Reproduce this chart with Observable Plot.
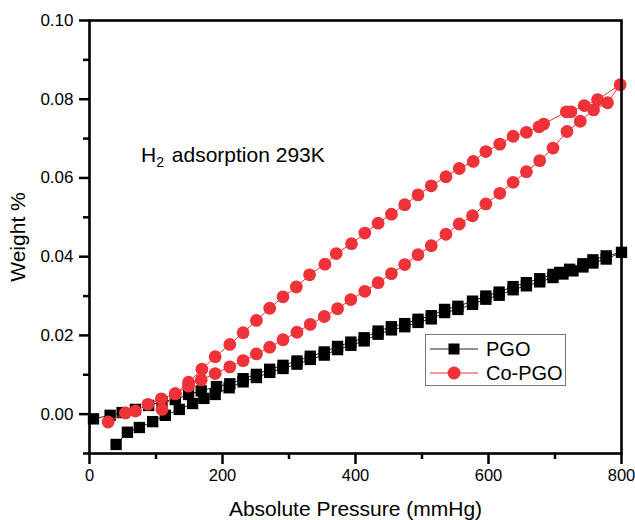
<!DOCTYPE html>
<html>
<head>
<meta charset="utf-8">
<script src="https://cdn.jsdelivr.net/npm/d3@7"></script>
<script src="https://cdn.jsdelivr.net/npm/@observablehq/plot@0.6"></script>
<style>
  html, body { margin: 0; padding: 0; background: #fff; }
  #chart { position: relative; width: 635px; height: 520px; font-family: "Liberation Sans", Arial, sans-serif; color: #000; }
  #chart svg { display: block; overflow: visible; }
  .note { position: absolute; left: 141px; top: 144px; font-size: 21px; line-height: 21px; white-space: nowrap; }
  .note sub { font-size: 14px; vertical-align: -5px; line-height: 0; margin-right: 2px; }
  .legend { position: absolute; left: 425px; top: 334px; width: 141px; height: 52px; border: 1px solid #777; box-sizing: border-box; background: #fff; }
  .legend .row { position: absolute; left: 0; height: 24px; display: flex; align-items: center; font-size: 20px; white-space: nowrap; }
  .legend svg { margin-left: 4px; margin-right: 8px; }
</style>
</head>
<body>
<div id="chart"></div>
<script>
// H2 uptake of PGO and Co-PGO at 293 K: adsorption branch then desorption branch.
// Pressure in mmHg, uptake in weight %.

const pgoAdsP = [40, 57, 75, 95, 114, 135, 155, 172, 189, 210, 231, 251, 271, 291, 312, 332, 353, 373, 393, 413, 434, 454, 474, 494, 514, 534, 554, 576, 596, 616, 637, 657, 677, 697, 712, 727, 742, 757, 777, 800];
const pgoAdsW = [-0.0077, -0.0046, -0.0034, -0.0019, -0.0003, 0.0012, 0.0027, 0.0040, 0.0050, 0.0067, 0.0082, 0.0093, 0.0106, 0.0116, 0.0127, 0.0139, 0.0150, 0.0164, 0.0175, 0.0186, 0.0203, 0.0214, 0.0222, 0.0233, 0.0242, 0.0258, 0.0266, 0.0279, 0.0292, 0.0302, 0.0316, 0.0326, 0.0336, 0.0347, 0.0356, 0.0364, 0.0374, 0.0384, 0.0394, 0.0411];
const pgoDesP = [777, 757, 742, 722, 707, 697, 677, 657, 637, 616, 596, 576, 554, 534, 514, 494, 474, 454, 434, 413, 393, 373, 353, 332, 312, 291, 271, 251, 231, 211, 191, 168, 149, 129, 109, 89, 69, 49, 31, 6];
const pgoDesW = [0.0402, 0.0392, 0.0382, 0.0368, 0.0360, 0.0355, 0.0344, 0.0334, 0.0324, 0.0310, 0.0300, 0.0287, 0.0274, 0.0266, 0.0250, 0.0241, 0.0230, 0.0222, 0.0211, 0.0194, 0.0183, 0.0172, 0.0158, 0.0147, 0.0135, 0.0124, 0.0114, 0.0101, 0.0090, 0.0077, 0.0070, 0.0059, 0.0050, 0.0037, 0.0032, 0.0022, 0.0012, 0.0004, -0.0003, -0.0012];

const coAdsP = [28, 54, 69, 88, 108, 129, 149, 168, 189, 211, 231, 251, 271, 291, 312, 332, 353, 373, 393, 414, 434, 454, 474, 494, 514, 536, 556, 576, 596, 617, 637, 657, 677, 697, 718, 738, 758, 779, 798];
const coAdsW = [-0.0020, 0.0003, 0.0008, 0.0025, 0.0039, 0.0052, 0.0071, 0.0087, 0.0103, 0.0120, 0.0136, 0.0153, 0.0170, 0.0189, 0.0208, 0.0228, 0.0248, 0.0268, 0.0291, 0.0312, 0.0334, 0.0357, 0.0380, 0.0405, 0.0428, 0.0457, 0.0483, 0.0504, 0.0534, 0.0561, 0.0589, 0.0616, 0.0644, 0.0676, 0.0718, 0.0744, 0.0773, 0.0791, 0.0837];
const coDesP = [764, 744, 724, 717, 683, 676, 657, 637, 617, 596, 577, 556, 536, 514, 494, 474, 454, 434, 414, 394, 371, 354, 331, 311, 291, 271, 251, 231, 211, 189, 169, 149, 129, 109];
const coDesW = [0.0799, 0.0784, 0.0768, 0.0768, 0.0737, 0.0730, 0.0716, 0.0706, 0.0686, 0.0667, 0.0642, 0.0624, 0.0603, 0.0580, 0.0557, 0.0532, 0.0508, 0.0485, 0.0460, 0.0433, 0.0408, 0.0381, 0.0354, 0.0323, 0.0298, 0.0269, 0.0238, 0.0207, 0.0177, 0.0146, 0.0114, 0.0081, 0.0052, 0.0012];

const xMajor = [0, 200, 400, 600, 800];
const xMinor = [100, 300, 500, 700];
const yMajor = [0.00, 0.02, 0.04, 0.06, 0.08, 0.10];
const yMinor = [-0.01, 0.01, 0.03, 0.05, 0.07, 0.09];

const RED = "#ee3238";

function loop(adsP, adsW, desP, desW) {
  const rows = adsP.map((p, i) => ({p, w: adsW[i]}));
  return rows.concat(desP.map((p, i) => ({p, w: desW[i]})));
}
const pgo = loop(pgoAdsP, pgoAdsW, pgoDesP, pgoDesW);
const co = loop(coAdsP, coAdsW, coDesP, coDesW);

const chart = Plot.plot({
  width: 635,
  height: 520,
  marginTop: 20,
  marginLeft: 89,
  marginRight: 14,
  marginBottom: 67,
  style: {fontFamily: "'Liberation Sans', Arial, sans-serif", fontSize: "17px", color: "#000", background: "#fff", overflow: "visible"},
  x: {domain: [0, 800]},
  y: {domain: [-0.01, 0.10]},
  marks: [
    Plot.axisX(xMinor, {tickSize: 6, strokeWidth: 2.5, text: null, label: null}),
    Plot.axisX(xMajor, {tickSize: 11, strokeWidth: 2.5, tickPadding: 5, fontSize: 16.5,
      label: "Absolute Pressure (mmHg)", labelAnchor: "center", labelArrow: "none", labelOffset: 62}),
    Plot.axisY(yMinor, {tickSize: 6, strokeWidth: 2.5, text: null, label: null}),
    Plot.axisY(yMajor, {tickSize: 10, strokeWidth: 2.5, tickPadding: 6, fontSize: 17, tickFormat: d => d.toFixed(2),
      label: "Weight %", labelAnchor: "center", labelArrow: "none", labelOffset: 79}),
    Plot.line(pgo, {x: "p", y: "w", stroke: "#222", strokeWidth: 1}),
    Plot.dot(pgo, {x: "p", y: "w", symbol: "square", r: 6.4, fill: "#000", stroke: "none"}),
    Plot.line(co, {x: "p", y: "w", stroke: RED, strokeWidth: 1}),
    Plot.dot(co, {x: "p", y: "w", symbol: "circle", r: 6.4, fill: RED, stroke: "none"}),
    Plot.frame({stroke: "#000", strokeWidth: 2.6})
  ]
});

const root = document.getElementById("chart");
root.appendChild(chart);

// Axis labels get a larger size than tick labels
chart.querySelectorAll("[aria-label$='-axis label'] text").forEach(t => t.setAttribute("font-size", "21"));

// Annotation
const note = document.createElement("div");
note.className = "note";
note.innerHTML = "H<sub>2</sub> adsorption 293K";
root.appendChild(note);

// Legend
const legendItems = [
  {name: "PGO", color: "#222", fill: "#000", shape: "square"},
  {name: "Co-PGO", color: RED, fill: RED, shape: "circle"}
];
const legend = document.createElement("div");
legend.className = "legend";
legendItems.forEach((item, i) => {
  const row = document.createElement("div");
  row.className = "row";
  row.style.top = (2 + i * 24) + "px";
  const sym = item.shape === "square"
    ? `<rect x="18.5" y="6.5" width="11" height="11" fill="${item.fill}"/>`
    : `<circle cx="24" cy="12" r="6.5" fill="${item.fill}"/>`;
  row.innerHTML = `<svg width="48" height="24"><line x1="0" x2="48" y1="12" y2="12" stroke="${item.color}" stroke-width="1"/>${sym}</svg><span>${item.name}</span>`;
  legend.appendChild(row);
});
root.appendChild(legend);
</script>
</body>
</html>
